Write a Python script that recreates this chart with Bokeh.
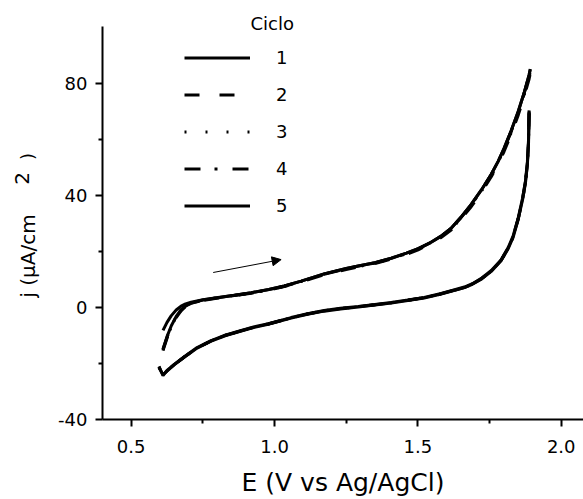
import numpy as np
from bokeh.plotting import figure
from bokeh.models import Range1d, FixedTicker, Label, Arrow, NormalHead, Legend, LegendItem
from bokeh.embed import file_html
from bokeh.resources import INLINE

# ---------------- data ----------------
cycle_labels = ["1", "2", "3", "4", "5"]

E_fwd = [0.611, 0.625, 0.640, 0.657, 0.674, 0.690, 0.709, 0.750, 0.803, 0.860,
         0.919, 0.980, 1.034, 1.093, 1.173, 1.250, 1.292, 1.350, 1.407, 1.460,
         1.501, 1.546, 1.581, 1.616, 1.650, 1.686, 1.721, 1.756, 1.780, 1.801,
         1.825, 1.850, 1.870, 1.888, 1.892]

j1_fwd = [-8.2, -5.3, -2.9, -0.9, 0.5, 1.3, 1.9, 2.8, 3.6, 4.4,
          5.3, 6.4, 7.7, 9.4, 12.0, 13.9, 14.8, 16.0, 17.6, 19.4,
          21.0, 23.3, 25.5, 28.3, 32.2, 36.8, 41.9, 47.6, 52.2, 56.9,
          63.0, 70.0, 76.5, 83.2, 85.2]
j2_fwd = [-15.4, -11.0, -7.0, -3.6, -1.2, 0.4, 1.4, 2.5, 3.4, 4.2,
          5.1, 6.2, 7.5, 9.2, 11.7, 13.6, 14.5, 15.7, 17.3, 19.0,
          20.6, 22.9, 25.0, 27.7, 31.5, 36.0, 41.0, 46.7, 51.2, 55.8,
          61.8, 68.7, 75.1, 81.6, 83.6]
j3_fwd = [-15.2, -10.8, -6.8, -3.4, -1.0, 0.5, 1.5, 2.6, 3.5, 4.3,
          5.2, 6.3, 7.6, 9.3, 11.8, 13.7, 14.6, 15.8, 17.4, 19.2,
          20.8, 23.1, 25.2, 28.0, 31.8, 36.4, 41.4, 47.1, 51.6, 56.3,
          62.3, 69.3, 75.7, 82.3, 84.2]
j4_fwd = [-15.0, -10.6, -6.7, -3.3, -0.9, 0.6, 1.5, 2.6, 3.5, 4.3,
          5.2, 6.3, 7.6, 9.3, 11.9, 13.8, 14.7, 15.9, 17.5, 19.3,
          20.9, 23.2, 25.4, 28.2, 32.0, 36.6, 41.7, 47.4, 51.9, 56.6,
          62.7, 69.7, 76.1, 82.8, 84.7]
j5_fwd = [-14.8, -10.4, -6.5, -3.2, -0.8, 0.6, 1.6, 2.7, 3.5, 4.4,
          5.3, 6.4, 7.7, 9.4, 12.0, 13.9, 14.8, 16.0, 17.6, 19.4,
          21.0, 23.3, 25.5, 28.3, 32.2, 36.8, 41.9, 47.6, 52.2, 56.9,
          63.0, 70.0, 76.4, 83.0, 85.0]

E_rev = [1.888, 1.886, 1.882, 1.875, 1.865, 1.850, 1.832, 1.815, 1.790, 1.756,
         1.720, 1.690, 1.662, 1.616, 1.581, 1.522, 1.465, 1.407, 1.350, 1.292,
         1.230, 1.173, 1.115, 1.058, 0.978, 0.930, 0.884, 0.830, 0.779, 0.730,
         0.685, 0.650, 0.625, 0.611, 0.597]

j1_rev = [70.4, 60.0, 52.0, 45.0, 39.0, 32.0, 25.5, 21.4, 17.0, 13.2,
          10.3, 8.5, 7.3, 6.0, 5.0, 3.6, 2.7, 1.8, 1.1, 0.4,
          -0.3, -1.1, -2.2, -3.6, -5.8, -6.9, -8.2, -9.8, -11.8, -14.3,
          -17.6, -20.3, -22.5, -24.3, -21.0]
j2_rev = [70.0, 59.6, 51.7, 44.7, 38.8, 31.8, 25.3, 21.2, 16.9, 13.1,
          10.2, 8.4, 7.2, 5.9, 4.9, 3.5, 2.6, 1.7, 1.0, 0.3,
          -0.4, -1.2, -2.3, -3.7, -5.9, -7.0, -8.3, -9.9, -11.9, -14.4,
          -17.7, -20.4, -22.6, -24.2, -21.2]
j3_rev = [69.6, 59.3, 51.5, 44.5, 38.6, 31.7, 25.2, 21.1, 16.8, 13.0,
          10.1, 8.4, 7.2, 5.9, 4.9, 3.5, 2.6, 1.7, 1.0, 0.3,
          -0.4, -1.2, -2.3, -3.7, -5.9, -7.0, -8.3, -9.9, -11.9, -14.4,
          -17.7, -20.4, -22.6, -24.1, -21.3]
j4_rev = [69.3, 59.0, 51.3, 44.3, 38.5, 31.6, 25.1, 21.0, 16.8, 13.0,
          10.1, 8.3, 7.1, 5.8, 4.8, 3.5, 2.6, 1.7, 1.0, 0.3,
          -0.4, -1.2, -2.3, -3.7, -5.9, -7.0, -8.3, -9.9, -11.9, -14.4,
          -17.7, -20.4, -22.6, -24.0, -21.4]
j5_rev = [69.0, 58.8, 51.1, 44.2, 38.4, 31.5, 25.0, 21.0, 16.7, 12.9,
          10.0, 8.3, 7.1, 5.8, 4.8, 3.4, 2.5, 1.6, 0.9, 0.2,
          -0.5, -1.3, -2.4, -3.8, -6.0, -7.1, -8.4, -10.0, -12.0, -14.5,
          -17.8, -20.5, -22.7, -24.0, -21.5]

x_ticks = [0.5, 1.0, 1.5, 2.0]
x_tick_labels = ["0.5", "1.0", "1.5", "2.0"]
x_minor = [0.75, 1.25, 1.75]
y_ticks = [-40, 0, 40, 80]
y_tick_labels = ["-40", "0", "40", "80"]
y_minor = [-20, 20, 60]

x_axis_extent = (0.4, 2.078)
y_axis_extent = (-40, 100.36)

arrow_start = (0.786, 12.5)
arrow_end = (1.023, 17.1)

# ---------------- figure ----------------
FONT = "DejaVu Sans"

# the frame fills the whole canvas; the axes are pinned at fixed data locations
p = figure(width=583, height=499, output_backend="svg", toolbar_location=None,
           x_range=Range1d(0.0442, 2.0777), y_range=Range1d(-68.57, 109.64),
           min_border=0, min_border_left=0, min_border_right=0,
           min_border_top=0, min_border_bottom=0)
p.outline_line_color = None
p.grid.visible = False
p.background_fill_color = "white"
p.border_fill_color = "white"

fwd = [j1_fwd, j2_fwd, j3_fwd, j4_fwd, j5_fwd]
rev = [j1_rev, j2_rev, j3_rev, j4_rev, j5_rev]
dashes = ["solid", "15 20", "2 19", "16 14 3 15", "solid"]

items = []
for lab, jf, jr, dash in zip(cycle_labels, fwd, rev, dashes):
    xs = np.concatenate([np.array(E_fwd), [np.nan], np.array(E_rev)])
    ys = np.concatenate([np.array(jf), [np.nan], np.array(jr)])
    r = p.line(xs, ys, line_color="black", line_width=3, line_dash=dash)
    items.append(LegendItem(label=lab, renderers=[r]))

legend = Legend(items=items, location=(184, 283.5), padding=0, margin=0,
                spacing=16, glyph_width=66, glyph_height=21, label_height=21,
                label_standoff=26, border_line_color=None,
                background_fill_alpha=0, label_text_font=FONT,
                label_text_font_size="18px", label_text_color="black")
p.add_layout(legend)

p.add_layout(Label(x=250, y=476, x_units="screen", y_units="screen", text="Ciclo",
                   text_font=FONT, text_font_size="18px", text_color="black",
                   text_align="left", text_baseline="middle"))

p.add_layout(Arrow(end=NormalHead(size=9, fill_color="black", line_color="black", line_width=1),
                   x_start=arrow_start[0], y_start=arrow_start[1],
                   x_end=arrow_end[0], y_end=arrow_end[1],
                   line_width=1, line_color="black"))

# axes
for ax in (p.xaxis[0], p.yaxis[0]):
    ax.axis_line_width = 2
    ax.axis_line_color = "black"
    ax.major_tick_line_width = 2
    ax.major_tick_line_color = "black"
    ax.major_tick_in = 0
    ax.major_tick_out = 7
    ax.minor_tick_in = 0
    ax.minor_tick_out = 4
    ax.minor_tick_line_width = 2
    ax.minor_tick_line_color = "black"
    ax.major_label_text_font = FONT
    ax.major_label_text_font_size = "18px"
    ax.major_label_text_color = "black"

p.xaxis.fixed_location = y_axis_extent[0]
p.yaxis.fixed_location = x_axis_extent[0]
p.xaxis.bounds = x_axis_extent
p.yaxis.bounds = y_axis_extent
p.xaxis.major_label_standoff = 13
p.yaxis.major_label_standoff = 8

p.xaxis.ticker = FixedTicker(ticks=x_ticks, minor_ticks=x_minor)
p.xaxis.major_label_overrides = dict(zip(x_ticks, x_tick_labels))
p.yaxis.ticker = FixedTicker(ticks=y_ticks, minor_ticks=y_minor)
p.yaxis.major_label_overrides = dict(zip(y_ticks, y_tick_labels))

p.xaxis.axis_label = "E (V vs Ag/AgCl)"
p.xaxis.axis_label_text_font = FONT
p.xaxis.axis_label_text_font_size = "25px"
p.xaxis.axis_label_text_font_style = "normal"
p.xaxis.axis_label_text_color = "black"
p.xaxis.axis_label_standoff = 12

# y-axis title pieces: "j (μA/cm", raised "2", ")"
for txt, sx, sy, fs in [("j (μA/cm", 27, 243.5, "20px"),
                        ("2", 21, 321, "20px"),
                        (")", 27, 343, "18px")]:
    p.add_layout(Label(x=sx, y=sy, x_units="screen", y_units="screen", text=txt,
                       angle=np.pi / 2, text_font=FONT, text_font_size=fs,
                       text_color="black", text_align="center",
                       text_baseline="alphabetic"))

open("out.html", "w").write(file_html(p, INLINE))
